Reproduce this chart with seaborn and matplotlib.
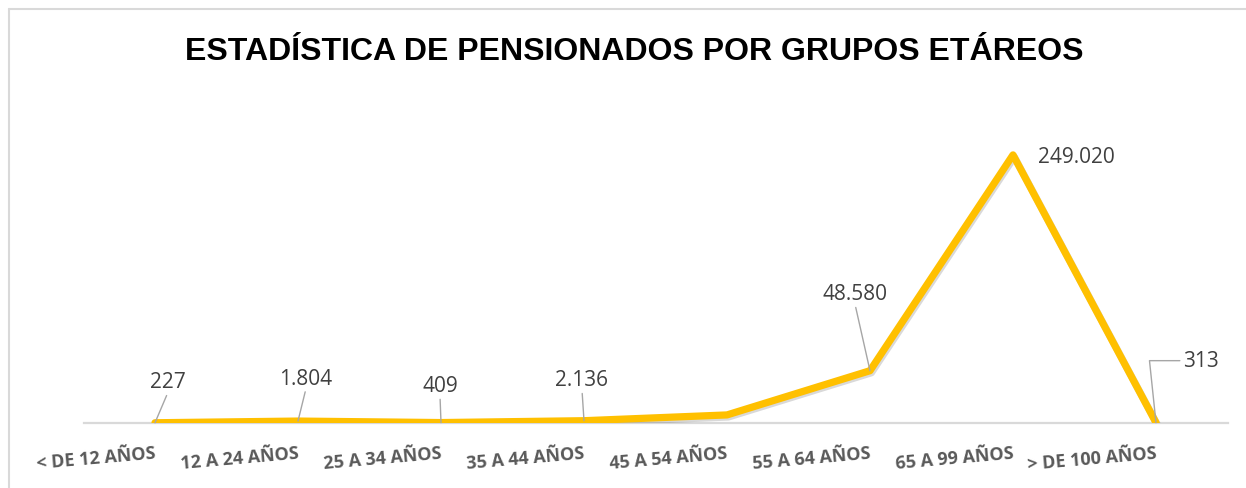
import matplotlib
matplotlib.use("Agg")
import matplotlib.pyplot as plt
import matplotlib.patheffects as pe
from matplotlib.lines import Line2D
import seaborn as sns

# Data
grupos = ['< DE 12 AÑOS', '12 A 24 AÑOS', '25 A 34 AÑOS', '35 A 44 AÑOS',
          '45 A 54 AÑOS', '55 A 64 AÑOS', '65 A 99 AÑOS', '> DE 100 AÑOS']
pensionados = [227, 1804, 409, 2136, 7500, 48580, 249020, 313]
etiquetas = ['227', '1.804', '409', '2.136', '', '48.580', '249.020', '313']

# Style
sns.set_style("white")
plt.rcParams['font.family'] = ['Open Sans', 'DejaVu Sans']

fig = plt.figure(figsize=(12.46, 4.89), dpi=100)
ax = fig.add_axes([83.5 / 1246, 65 / 489, 1144 / 1246, 323 / 489])

sns.lineplot(x=grupos, y=pensionados, sort=False, ax=ax, color='#FFC000',
             linewidth=5.2, solid_joinstyle='round', solid_capstyle='round',
             path_effects=[pe.SimpleLineShadow(offset=(1, -1.5), alpha=0.15),
                           pe.Normal()])

ax.set_xlim(-0.5, len(grupos) - 0.5)
ax.set_ylim(0, 300000)
ax.set_xlabel('')
ax.set_ylabel('')
ax.set_yticks([])
for s in ['top', 'left', 'right']:
    ax.spines[s].set_visible(False)
ax.spines['bottom'].set_color('#D9D9D9')
ax.spines['bottom'].set_linewidth(1.6)
ax.spines['bottom'].set_zorder(0)

ax.set_xticks(range(len(grupos)))
ax.set_xticklabels(grupos, rotation=5, ha='right', va='top',
                   rotation_mode='anchor', fontsize=13, fontweight='bold',
                   color='#595959')
ax.tick_params(axis='x', length=0, pad=15)

# Data labels (offsets in pixels)
offsets = [(13, 41), (8, 43), (-1, 37), (-2, 41), (0, 0), (-15, 77), (63, -2), (45, 62)]
for i, (val, txt) in enumerate(zip(pensionados, etiquetas)):
    if not txt:
        continue
    dx, dy = offsets[i]
    arrow = dict(arrowstyle='-', color='#A6A6A6', lw=1, shrinkA=0, shrinkB=0,
                 relpos=(0.5, 0))
    if txt == '249.020':
        arrow = None
    elif txt == '313':
        arrow['relpos'] = (0, 0.5)
        arrow['connectionstyle'] = 'angle,angleA=180,angleB=96,rad=0'
    ax.annotate(txt, xy=(i, val), xytext=(dx, dy), textcoords='offset pixels',
                ha='center', va='center', fontsize=15, color='#404040',
                arrowprops=arrow)

fig.suptitle('ESTADÍSTICA DE PENSIONADOS POR GRUPOS ETÁREOS',
             x=634 / 1246, y=1 - 52 / 489, va='center', fontsize=23,
             fontweight='bold', family='Liberation Sans', color='black')

# Chart border
fig.add_artist(Line2D([9 / 1246, 1], [1 - 10 / 489, 1 - 10 / 489],
                      color='#D9D9D9', lw=1.5, transform=fig.transFigure))
fig.add_artist(Line2D([9 / 1246, 9 / 1246], [0, 1 - 10 / 489],
                      color='#D9D9D9', lw=1.5, transform=fig.transFigure))

fig.savefig('out.png', dpi=100, facecolor='white')
